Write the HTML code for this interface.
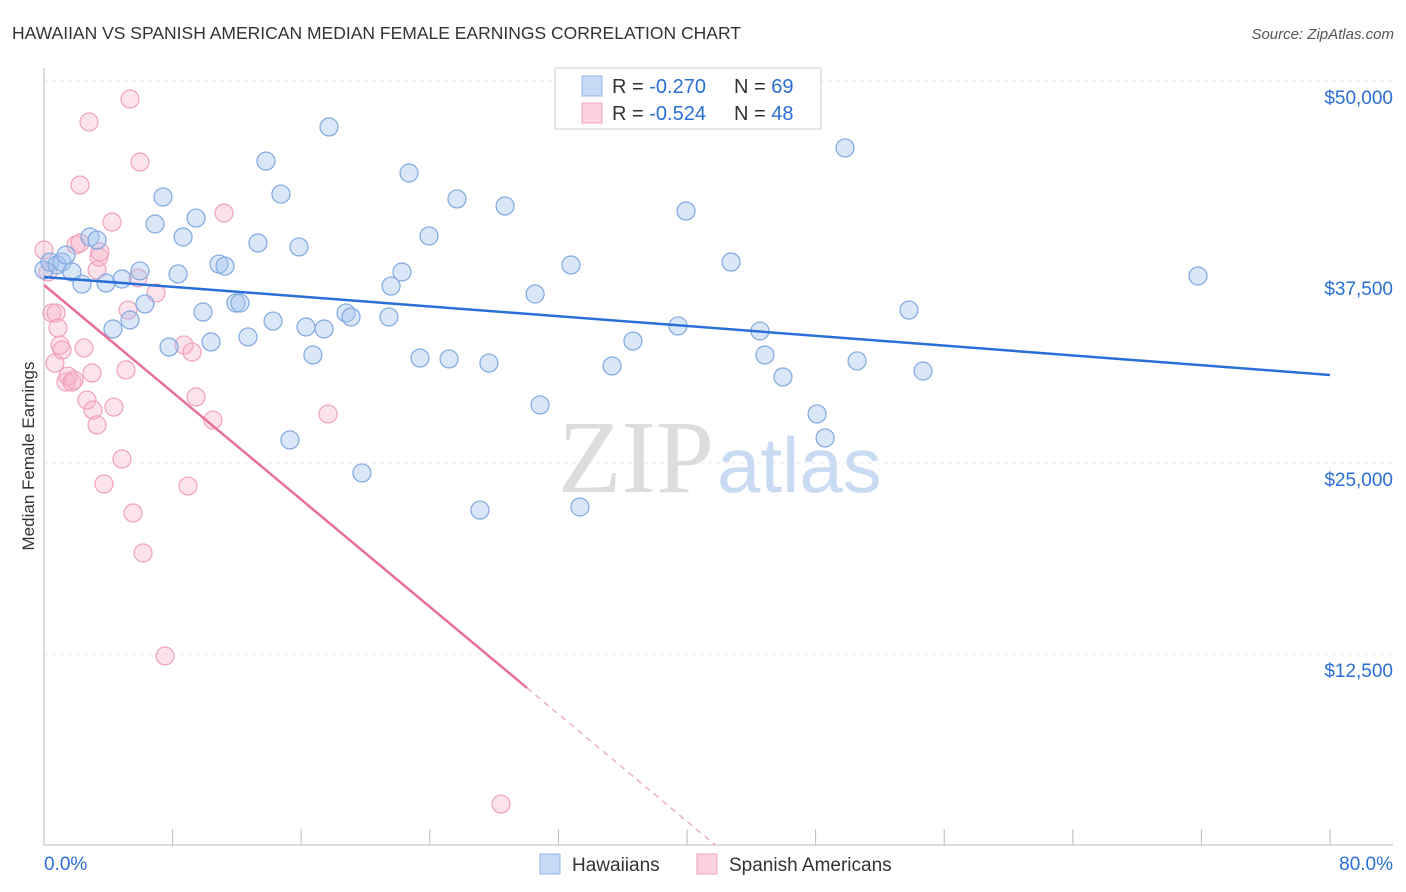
<!DOCTYPE html>
<html><head><meta charset="utf-8"><style>
body{margin:0;background:#fff;font-family:"Liberation Sans",sans-serif}
svg{display:block}
</style></head><body>
<svg id="chart" width="1406" height="892" viewBox="0 0 1406 892">
<text x="12" y="39" font-size="17.5" fill="#333">HAWAIIAN VS SPANISH AMERICAN MEDIAN FEMALE EARNINGS CORRELATION CHART</text>
<text x="1394" y="39" font-size="15" fill="#555" text-anchor="end" font-style="italic">Source: ZipAtlas.com</text>
<g id="grid"></g>
<text x="714" y="492" font-family="Liberation Serif,serif" font-size="104" fill="#ddd" text-anchor="end">ZIP</text>
<text x="717" y="492" font-size="78" fill="#c9dbf2">atlas</text>
<g id="axes"></g>
<text transform="translate(34,456) rotate(-90)" font-size="17" fill="#333" text-anchor="middle">Median Female Earnings</text>
<g id="marks"></g>
<g>
<rect x="555" y="68" width="266" height="61" fill="#fff" stroke="#ccc"/>
<rect x="582" y="76" width="20" height="20" fill="rgba(160,196,240,0.6)" stroke="#8fb5e8"/>
<rect x="582" y="103" width="20" height="20" fill="rgba(248,180,200,0.6)" stroke="#f0a0bc"/>
<text x="612" y="93" font-size="20" fill="#333">R = <tspan fill="#2a6fd6">-0.270</tspan>   <tspan x="734">N = </tspan><tspan fill="#2a6fd6">69</tspan></text>
<text x="612" y="120" font-size="20" fill="#333">R = <tspan fill="#2a6fd6">-0.524</tspan>   <tspan x="734">N = </tspan><tspan fill="#2a6fd6">48</tspan></text>
</g>
<g>
<rect x="540" y="854" width="20" height="20" fill="rgba(160,196,240,0.6)" stroke="#8fb5e8"/>
<text x="572" y="871" font-size="19" fill="#333">Hawaiians</text>
<rect x="697" y="854" width="20" height="20" fill="rgba(248,180,200,0.6)" stroke="#f0a0bc"/>
<text x="729" y="871" font-size="19" fill="#333">Spanish Americans</text>
</g>
</svg>
<script>
const blueX=[0,0.37,0.81,1.12,1.37,1.74,2.36,2.86,3.30,3.86,4.29,4.85,5.35,5.97,6.28,6.91,7.40,7.78,8.34,8.65,9.46,9.89,10.39,10.89,11.26,11.94,12.19,12.69,13.31,13.81,14.25,14.74,15.30,15.86,16.30,16.73,17.42,17.73,18.79,19.10,19.78,21.46,21.59,22.27,22.71,23.39,23.95,25.20,25.69,27.12,27.68,28.68,30.55,30.86,32.78,33.34,35.34,36.64,39.44,39.94,42.74,44.54,44.85,45.97,48.09,48.59,49.83,50.58,53.81,54.68,71.79];
const blueY=[37.63,38.15,37.96,38.15,38.61,37.50,36.71,39.79,39.59,36.78,33.77,37.04,34.36,37.57,35.41,40.64,42.41,32.59,37.37,39.79,41.03,34.88,32.92,38.02,37.89,35.47,35.47,33.25,39.40,44.76,34.29,42.60,26.51,39.14,33.90,32.07,33.77,46.99,34.82,34.56,24.35,34.56,36.58,37.50,43.98,31.87,39.86,31.81,42.28,21.92,31.54,41.82,36.06,28.80,37.96,22.12,31.35,32.98,33.97,41.49,38.15,33.64,32.07,30.63,28.21,26.64,45.62,31.68,35.01,31.02,37.24];
const pinkX=[0,0.25,0.50,0.75,0.68,0.87,1.00,1.12,1.37,1.49,1.74,1.87,1.99,2.24,2.24,2.49,2.67,2.80,2.99,3.05,3.30,3.30,3.42,3.48,3.73,4.23,4.35,4.85,5.10,5.23,5.35,5.54,5.85,5.97,6.16,6.97,7.53,8.71,8.96,9.21,9.46,10.51,11.20,17.67,28.43];
const pinkY=[38.94,37.50,34.82,34.82,31.54,33.84,32.72,32.40,30.30,30.69,30.30,30.43,39.27,43.19,39.40,32.53,29.12,47.32,30.89,28.47,27.49,37.63,38.48,38.81,23.63,40.77,28.66,25.26,31.09,35.01,48.82,21.73,37.11,44.70,19.11,36.13,12.37,32.72,23.49,32.26,29.32,27.81,41.36,28.21,2.68];
const blueTrend=[37.17,30.76];
const pinkTrend=[36.65,-0.8776];
const pinkSolidEnd=30.05;
const yTicks=[12.5,25,37.5,50];
const yTickLabels=["$12,500","$25,000","$37,500","$50,000"];
const xTicks=[0,8,16,24,32,40,48,56,64,72,80];

const X=v=>44+v*1286/80;
const Y=v=>845-v*191/12.5;
const NS="http://www.w3.org/2000/svg";
function mk(tag,parent,attrs){const e=document.createElementNS(NS,tag);for(const k in attrs)e.setAttribute(k,attrs[k]);parent.appendChild(e);return e;}
const grid=document.getElementById('grid'),axes=document.getElementById('axes'),marks=document.getElementById('marks');
yTicks.forEach((t,i)=>{
 const l=mk('line',grid,{x1:44,x2:1393,y1:Y(t),y2:Y(t),stroke:'#ebebeb','stroke-dasharray':'4,4'});
 
 
 const tx=mk('text',axes,{x:1393,y:Y(t)+23,'font-size':19,fill:'#2a6fd6','text-anchor':'end'});
 tx.textContent=yTickLabels[i];
 
 
});
mk('line',axes,{x1:44,x2:44,y1:68,y2:845,stroke:'#bbb'});
mk('line',axes,{x1:44,x2:1393,y1:845,y2:845,stroke:'#bbb'});
xTicks.forEach(t=>{
 const l=mk('line',axes,{x1:X(t),x2:X(t),y1:829,y2:845,stroke:'#bbb'});
 
 
});
const xl0=mk('text',axes,{x:44,y:870,'font-size':19,fill:'#2a6fd6'});xl0.textContent='0.0%';


const xl1=mk('text',axes,{x:1393,y:870,'font-size':19,fill:'#2a6fd6','text-anchor':'end'});xl1.textContent='80.0%';



pinkX.forEach((x,i)=>{
 const c=mk('circle',marks,{cx:X(x),cy:Y(pinkY[i]),r:9,fill:'rgba(248,180,200,0.38)',stroke:'#f0a0bc','stroke-width':1.2});
 
 
});
blueX.forEach((x,i)=>{
 const c=mk('circle',marks,{cx:X(x),cy:Y(blueY[i]),r:9,fill:'rgba(160,196,240,0.4)',stroke:'#7fa8e0','stroke-width':1.2});
 
 
});
const bl=mk('line',marks,{x1:X(0),y1:Y(blueTrend[0]),x2:X(80),y2:Y(blueTrend[1]),stroke:'#2a6fd6','stroke-width':2.5});


const pz=-pinkTrend[0]/pinkTrend[1];
const ps=mk('line',marks,{x1:X(0),y1:Y(pinkTrend[0]),x2:X(pinkSolidEnd),y2:Y(pinkTrend[0]+pinkTrend[1]*pinkSolidEnd),stroke:'#e8709a','stroke-width':2.5});


const pd=mk('line',marks,{x1:X(pinkSolidEnd),y1:Y(pinkTrend[0]+pinkTrend[1]*pinkSolidEnd),x2:X(pz),y2:Y(0),stroke:'#e8a0b8','stroke-width':1.2,'stroke-dasharray':'6,5'});


</script>
</body></html>
